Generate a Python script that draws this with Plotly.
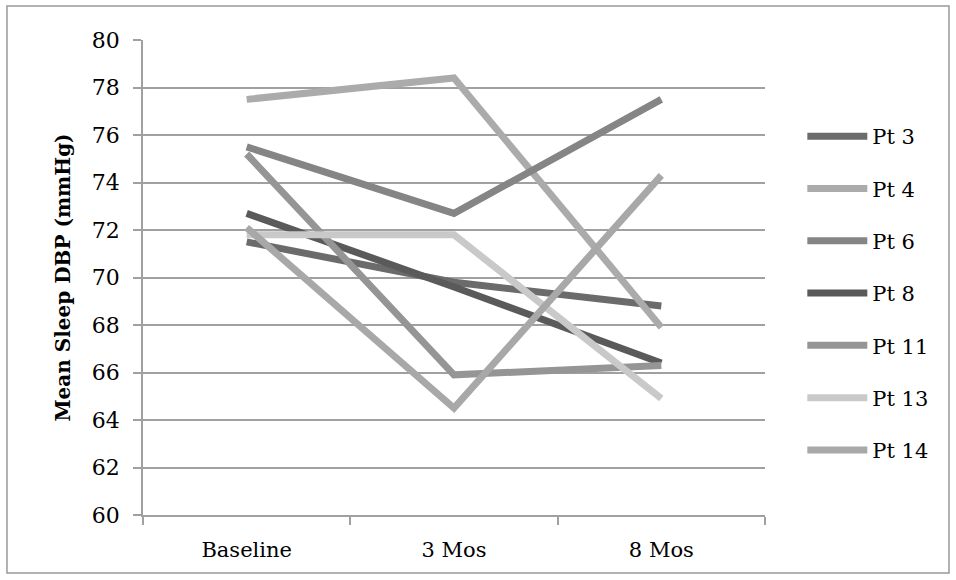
import plotly.graph_objects as go

categories = ["Baseline", "3 Mos", "8 Mos"]
patients = ["Pt 3", "Pt 4", "Pt 6", "Pt 8", "Pt 11", "Pt 13", "Pt 14"]
pt3 = [71.5, 69.8, 68.8]
pt4 = [77.5, 78.4, 67.9]
pt6 = [75.5, 72.7, 77.5]
pt8 = [72.7, 69.6, 66.4]
pt11 = [75.2, 65.9, 66.3]
pt13 = [71.8, 71.8, 64.9]
pt14 = [72.1, 64.5, 74.3]
series = [pt3, pt4, pt6, pt8, pt11, pt13, pt14]
colors = ["#6b6b6b", "#ababab", "#858585", "#5a5a5a", "#959595", "#c9c9c9", "#a8a8a8"]
y_ticks = list(range(60, 81, 2))

FONT = "DejaVu Serif"

fig = go.Figure()
for name, vals, col in zip(patients, series, colors):
    fig.add_trace(go.Scatter(
        x=categories, y=vals, name=name, mode="lines",
        line=dict(color=col, width=7),
        legendgroup=name,
    ))

fig.update_layout(
    width=956, height=580,
    margin=dict(l=143, r=191, t=40, b=65),
    paper_bgcolor="white", plot_bgcolor="white",
    font=dict(family=FONT, size=21, color="black"),
    showlegend=True,
    legend=dict(
        x=1.06, y=0.84, xanchor="left", yanchor="top",
        tracegroupgap=22, itemwidth=60,
        font=dict(family=FONT, size=21, color="black"),
        bgcolor="rgba(0,0,0,0)",
    ),
    xaxis=dict(
        type="category", range=[-0.5, 2.5],
        showline=True, linecolor="#a0a0a0", linewidth=1.5,
        ticks="outside", tickson="boundaries", ticklen=8, tickcolor="#a0a0a0", tickwidth=1.5,
        showgrid=False, tickfont=dict(family=FONT, size=21),
        ticklabelstandoff=15,
    ),
    yaxis=dict(
        range=[60, 80], tickvals=y_ticks, ticktext=[str(v) for v in y_ticks],
        showline=True, linecolor="#a0a0a0", linewidth=1.5,
        ticks="outside", ticklen=8, tickcolor="#a0a0a0", tickwidth=1.5,
        showgrid=True, gridcolor="#a0a0a0", gridwidth=1.5,
        zeroline=False,
        tickfont=dict(family=FONT, size=22),
        ticklabelstandoff=9,
        title=dict(text="<b>Mean Sleep DBP (mmHg)</b>", font=dict(family=FONT, size=20), standoff=16),
    ),
    shapes=[dict(type="rect", xref="paper", yref="paper",
                 x0=-0.2187, x1=1.2958, y0=-0.1221, y1=1.0716,
                 line=dict(color="#999999", width=1.5), fillcolor="rgba(0,0,0,0)", layer="below")],
)

fig.write_html("out.html")
